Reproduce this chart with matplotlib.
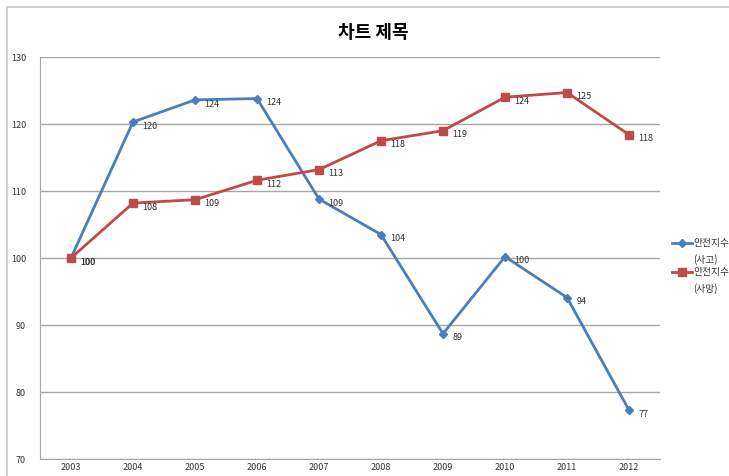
import matplotlib.pyplot as plt
from matplotlib.patches import Rectangle
from matplotlib.lines import Line2D

plt.rcParams['font.family'] = ['Noto Sans CJK KR', 'DejaVu Sans']

years = ['2003', '2004', '2005', '2006', '2007', '2008', '2009', '2010', '2011', '2012']
accident = [100, 120.3, 123.6, 123.8, 108.8, 103.5, 88.7, 100.2, 94.1, 77.3]
death = [100, 108.2, 108.7, 111.6, 113.2, 117.5, 119.0, 124.0, 124.7, 118.4]
accident_labels = [100, 120, 124, 124, 109, 104, 89, 100, 94, 77]
death_labels = [100, 108, 109, 112, 113, 118, 119, 124, 125, 118]
yticks = [70, 80, 90, 100, 110, 120, 130]
series_names = [('안전지수', '(사고)'), ('안전지수', '(사망)')]

blue = '#4a7ebb'
red = '#be4b48'
W, H = 729, 476

fig = plt.figure(figsize=(W / 100, H / 100), dpi=100)
ax = fig.add_axes([40 / W, 1 - 459 / H, 620 / W, 402 / H])

# chart area border
fig.patches.append(Rectangle((7 / W, -0.05), 1.0, 1 - 7 / H + 0.05,
                             transform=fig.transFigure, fill=False,
                             edgecolor='#c8c8c8', linewidth=1.2))

x = list(range(len(years)))
ax.plot(x, accident, color=blue, lw=2, marker='D', ms=4, zorder=3)
ax.plot(x, death, color=red, lw=2, marker='s', ms=5.5, zorder=3)

for xi, v, lab in zip(x, accident, accident_labels):
    ax.annotate(str(lab), (xi, v), xytext=(7, -3), textcoords='offset points',
                fontsize=6.5, color='#333333', va='center')
for xi, v, lab in zip(x, death, death_labels):
    ax.annotate(str(lab), (xi, v), xytext=(7, -3), textcoords='offset points',
                fontsize=6.5, color='#333333', va='center')

ax.set_xlim(-0.5, len(years) - 0.5)
ax.set_ylim(70, 130)
ax.set_yticks(yticks)
ax.set_xticks(x)
ax.set_xticklabels(years)
ax.tick_params(axis='both', length=0, labelsize=6.5, colors='#333333')
ax.tick_params(axis='x', pad=3)
ax.tick_params(axis='y', pad=10)
ax.grid(axis='y', color='#a6a6a6', lw=1)
ax.set_axisbelow(True)
for s in ['top', 'right']:
    ax.spines[s].set_visible(False)
for s in ['left', 'bottom']:
    ax.spines[s].set_color('#a6a6a6')

fig.text(373 / W, 1 - 32 / H, '차트 제목', ha='center', va='center',
         fontsize=13, fontweight='bold')

# legend: handle aligned with the first line of each wrapped label
for (name, sub), col, mk, ms, y0 in zip(series_names, [blue, red], ['D', 's'], [4, 5.5], [243, 272]):
    fy = 1 - y0 / H
    fig.add_artist(Line2D([672 / W, 692 / W], [fy, fy], color=col, lw=2))
    fig.add_artist(Line2D([682 / W], [fy], color=col, marker=mk, ms=ms))
    fig.text(693 / W, fy, name, fontsize=7, color='#333333', va='center')
    fig.text(693 / W, 1 - (y0 + 17) / H, sub, fontsize=7, color='#333333', va='center')

fig.savefig('out.png', dpi=100)
